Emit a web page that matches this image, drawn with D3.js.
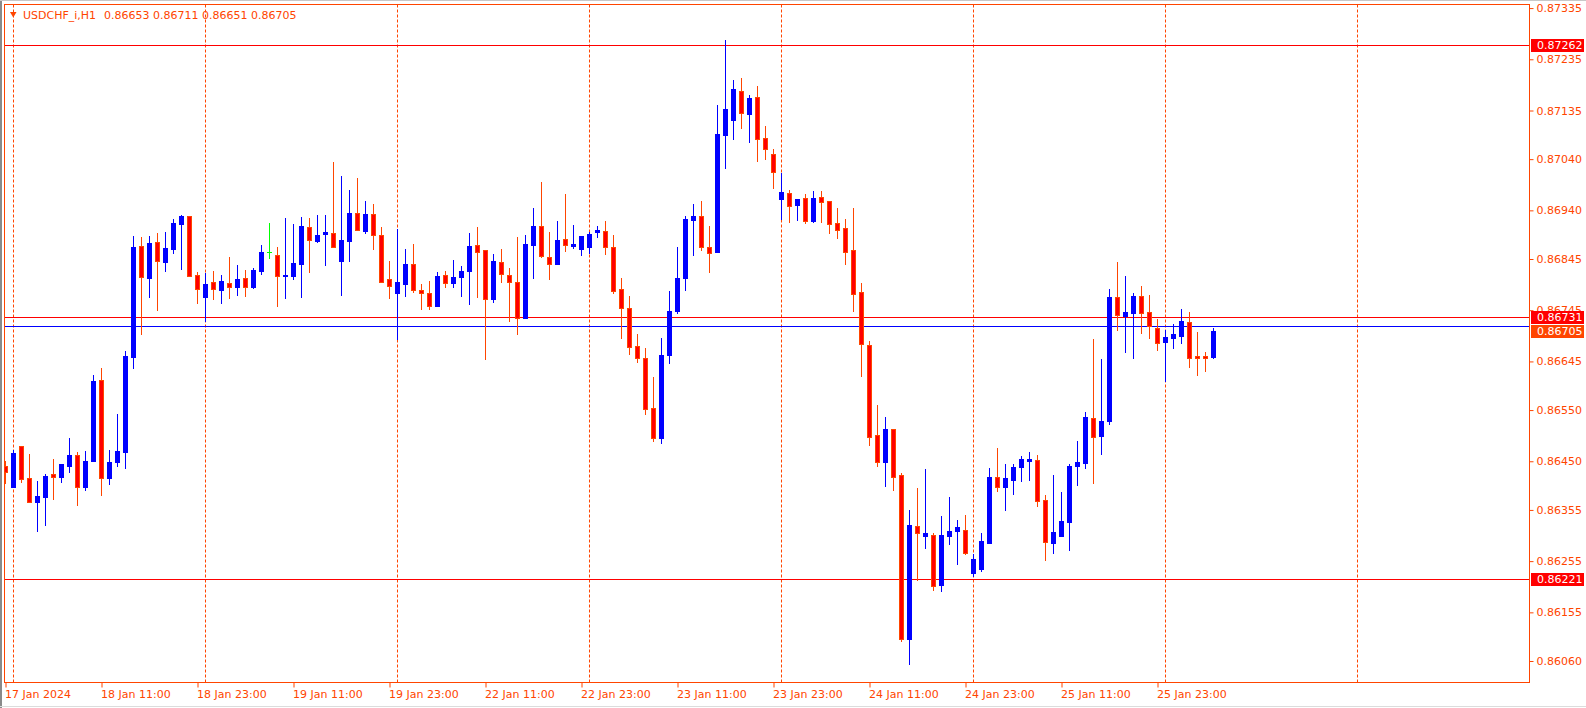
<!DOCTYPE html>
<html><head><meta charset="utf-8">
<script src="https://cdn.jsdelivr.net/npm/d3@7"></script>
<style>
html,body{margin:0;padding:0;background:#fff;overflow:hidden;}
svg{display:block;font-family:"DejaVu Sans",sans-serif;}
</style></head><body>
<svg id="chart" width="1586" height="708"></svg>
<script>
const symbol = "USDCHF_i,H1";
const opens = [0.86441,0.86399,0.86480,0.86417,0.86371,0.86381,0.86425,0.86420,0.86441,0.86462,0.86400,0.86451,0.86609,0.86418,0.86449,0.86469,0.86654,0.86871,0.86807,0.86878,0.86840,0.86865,0.86914,0.86929,0.86813,0.86770,0.86800,0.86785,0.86798,0.86791,0.86808,0.86791,0.86822,0.86858,0.86853,0.86811,0.86812,0.86836,0.86908,0.86880,0.86893,0.86896,0.86842,0.86881,0.86935,0.86900,0.86933,0.86892,0.86806,0.86779,0.86797,0.86835,0.86785,0.86778,0.86754,0.86814,0.86799,0.86809,0.86822,0.86872,0.86863,0.86767,0.86839,0.86814,0.86800,0.86729,0.86873,0.86910,0.86849,0.86836,0.86884,0.86871,0.86865,0.86869,0.86897,0.86900,0.86869,0.86787,0.86749,0.86675,0.86652,0.86554,0.86496,0.86658,0.86744,0.86807,0.86922,0.86929,0.86869,0.86859,0.87088,0.87117,0.87173,0.87129,0.87162,0.87081,0.87050,0.86962,0.86974,0.86951,0.86964,0.86919,0.86966,0.86958,0.86916,0.86906,0.86863,0.86781,0.86677,0.86501,0.86449,0.86513,0.86423,0.86103,0.86324,0.86305,0.86306,0.86209,0.86305,0.86313,0.86316,0.86232,0.86239,0.86291,0.86419,0.86399,0.86414,0.86438,0.86451,0.86453,0.86375,0.86291,0.86305,0.86332,0.86440,0.86447,0.86535,0.86500,0.86529,0.86771,0.86734,0.86740,0.86773,0.86742,0.86710,0.86682,0.86690,0.86695,0.86722,0.86656,0.86656,0.86653];
const highs = [0.86451,0.86472,0.86480,0.86464,0.86412,0.86425,0.86455,0.86445,0.86496,0.86468,0.86470,0.86619,0.86632,0.86472,0.86542,0.86665,0.86890,0.86888,0.86890,0.86896,0.86898,0.86923,0.86931,0.86929,0.86820,0.86818,0.86822,0.86814,0.86849,0.86833,0.86824,0.86828,0.86872,0.86915,0.86869,0.86925,0.86913,0.86927,0.86925,0.86931,0.86931,0.87035,0.87007,0.86980,0.87003,0.86958,0.86953,0.86908,0.86842,0.86904,0.86865,0.86875,0.86796,0.86802,0.86820,0.86822,0.86843,0.86831,0.86896,0.86908,0.86863,0.86855,0.86865,0.86828,0.86888,0.86892,0.86945,0.86996,0.86898,0.86919,0.86972,0.86912,0.86890,0.86898,0.86910,0.86919,0.86892,0.86807,0.86773,0.86699,0.86672,0.86615,0.86690,0.86783,0.86869,0.86929,0.86953,0.86958,0.86910,0.87146,0.87273,0.87195,0.87199,0.87165,0.87183,0.87105,0.87060,0.87012,0.86980,0.86962,0.86972,0.86978,0.86978,0.86958,0.86945,0.86923,0.86945,0.86798,0.86685,0.86560,0.86537,0.86513,0.86427,0.86355,0.86398,0.86435,0.86310,0.86343,0.86380,0.86335,0.86345,0.86269,0.86310,0.86437,0.86476,0.86445,0.86445,0.86460,0.86468,0.86462,0.86384,0.86423,0.86390,0.86445,0.86490,0.86546,0.86689,0.86650,0.86787,0.86839,0.86812,0.86779,0.86792,0.86775,0.86728,0.86706,0.86718,0.86747,0.86742,0.86703,0.86664,0.86711];
const lows = [0.86407,0.86399,0.86410,0.86370,0.86313,0.86326,0.86376,0.86410,0.86430,0.86365,0.86393,0.86451,0.86385,0.86406,0.86441,0.86437,0.86633,0.86699,0.86770,0.86746,0.86822,0.86857,0.86826,0.86811,0.86760,0.86723,0.86766,0.86760,0.86768,0.86775,0.86772,0.86789,0.86816,0.86846,0.86754,0.86768,0.86805,0.86770,0.86820,0.86878,0.86834,0.86869,0.86775,0.86842,0.86902,0.86895,0.86865,0.86801,0.86768,0.86689,0.86772,0.86781,0.86748,0.86748,0.86754,0.86791,0.86791,0.86772,0.86758,0.86770,0.86650,0.86762,0.86801,0.86723,0.86699,0.86729,0.86807,0.86848,0.86805,0.86836,0.86861,0.86867,0.86852,0.86857,0.86887,0.86854,0.86779,0.86691,0.86660,0.86643,0.86543,0.86490,0.86486,0.86641,0.86740,0.86785,0.86852,0.86863,0.86820,0.86859,0.87023,0.87080,0.87100,0.87074,0.87037,0.87041,0.86984,0.86923,0.86917,0.86921,0.86916,0.86917,0.86917,0.86895,0.86886,0.86836,0.86744,0.86617,0.86482,0.86441,0.86402,0.86393,0.86099,0.86054,0.86219,0.86281,0.86199,0.86197,0.86289,0.86250,0.86268,0.86225,0.86236,0.86291,0.86391,0.86354,0.86387,0.86412,0.86414,0.86363,0.86257,0.86270,0.86305,0.86277,0.86404,0.86436,0.86408,0.86465,0.86522,0.86707,0.86664,0.86652,0.86701,0.86690,0.86668,0.86607,0.86672,0.86680,0.86635,0.86619,0.86627,0.86651];
const closes = [0.86430,0.86467,0.86415,0.86370,0.86382,0.86421,0.86419,0.86445,0.86462,0.86399,0.86451,0.86607,0.86417,0.86449,0.86470,0.86656,0.86869,0.86809,0.86876,0.86842,0.86867,0.86915,0.86929,0.86811,0.86787,0.86796,0.86787,0.86802,0.86790,0.86806,0.86791,0.86824,0.86859,0.86858,0.86811,0.86814,0.86837,0.86910,0.86883,0.86892,0.86898,0.86869,0.86882,0.86935,0.86902,0.86933,0.86891,0.86801,0.86793,0.86800,0.86835,0.86785,0.86778,0.86754,0.86812,0.86799,0.86810,0.86822,0.86871,0.86858,0.86766,0.86841,0.86815,0.86800,0.86729,0.86874,0.86910,0.86850,0.86836,0.86882,0.86873,0.86874,0.86890,0.86894,0.86902,0.86869,0.86783,0.86750,0.86674,0.86652,0.86553,0.86496,0.86658,0.86744,0.86807,0.86923,0.86929,0.86869,0.86857,0.87089,0.87138,0.87177,0.87131,0.87160,0.87080,0.87059,0.87014,0.86976,0.86949,0.86962,0.86919,0.86964,0.86957,0.86914,0.86902,0.86859,0.86777,0.86679,0.86498,0.86449,0.86513,0.86420,0.86103,0.86326,0.86309,0.86310,0.86207,0.86306,0.86314,0.86322,0.86270,0.86259,0.86294,0.86419,0.86400,0.86417,0.86439,0.86455,0.86455,0.86373,0.86293,0.86311,0.86333,0.86441,0.86449,0.86537,0.86498,0.86529,0.86771,0.86736,0.86742,0.86773,0.86740,0.86715,0.86680,0.86693,0.86699,0.86724,0.86652,0.86652,0.86652,0.86705];
const timeLabels = ["17 Jan 2024","18 Jan 11:00","18 Jan 23:00","19 Jan 11:00","19 Jan 23:00","22 Jan 11:00","22 Jan 23:00","23 Jan 11:00","23 Jan 23:00","24 Jan 11:00","24 Jan 23:00","25 Jan 11:00","25 Jan 23:00"];
const labelBars = [0,12,24,36,48,60,72,84,96,108,120,132,144];
const dayStartBars = [1,25,49,73,97,121,145,169];
const priceTicks = [0.87335,0.87235,0.87135,0.87040,0.86940,0.86845,0.86745,0.86645,0.86550,0.86450,0.86355,0.86255,0.86155,0.86060];
const levelLines = [0.87262,0.86731,0.86221];
const askPrice = 0.86715;
const bidPrice = 0.86705;
const priceMax = 0.87342, priceMin = 0.86018;
const visibleBars = 190;

const C_AXIS = "#FF4500", C_BULL = "#0000FF", C_BEAR = "#FF0000", C_DOJI = "#00FF00";
const W = 1586, H = 708;
const L = 4.5, R = 1529.5, T = 4.5, B = 682.5;

const svg = d3.select("#chart");
svg.append("rect").attr("width", W).attr("height", H).attr("fill", "#fff");

const x = d3.scaleLinear().domain([0, visibleBars]).range([5.5, 5.5 + 8 * visibleBars]);
const y = d3.scaleLinear().domain([priceMin, priceMax]).range([B, T]);

svg.append("defs").append("clipPath").attr("id", "clip")
  .append("rect").attr("x", L + 0.5).attr("y", T + 0.5).attr("width", R - L - 1).attr("height", B - T - 1);

// window edges
svg.append("rect").attr("x", 0).attr("y", 0).attr("width", 2).attr("height", H).attr("fill", "#8a8a8a");
svg.append("line").attr("x1", 0).attr("x2", W).attr("y1", 0.5).attr("y2", 0.5).attr("stroke", "#c8c8c8");
svg.append("line").attr("x1", 0).attr("x2", W).attr("y1", 706.5).attr("y2", 706.5).attr("stroke", "#dcdcdc");

const plot = svg.append("g").attr("clip-path", "url(#clip)");

// day separators
plot.selectAll("line.grid").data(dayStartBars).join("line")
  .attr("class", "grid")
  .attr("x1", d => x(d)).attr("x2", d => x(d))
  .attr("y1", T).attr("y2", B)
  .attr("stroke", C_AXIS).attr("stroke-width", 1).attr("stroke-dasharray", "3,2");

// horizontal levels
plot.selectAll("line.level").data(levelLines).join("line")
  .attr("class", "level")
  .attr("x1", L).attr("x2", R)
  .attr("y1", d => Math.round(y(d)) + 0.5).attr("y2", d => Math.round(y(d)) + 0.5)
  .attr("stroke", C_BEAR).attr("stroke-width", 1);
plot.append("line")
  .attr("x1", L).attr("x2", R)
  .attr("y1", Math.round(y(askPrice)) + 0.5).attr("y2", Math.round(y(askPrice)) + 0.5)
  .attr("stroke", C_BULL).attr("stroke-width", 1);

// candles
const bars = opens.map((o, i) => ({ i, o, h: highs[i], l: lows[i], c: closes[i] }));
const cg = plot.append("g");
bars.forEach(b => {
  const cx = x(b.i);
  const yt = Math.round(y(Math.max(b.o, b.c)));
  const yb = Math.round(y(Math.min(b.o, b.c)));
  const yh = Math.round(y(b.h));
  const yl = Math.round(y(b.l));
  const doji = b.o === b.c;
  const bull = b.c > b.o;
  const wickColor = doji ? C_DOJI : (bull ? C_BULL : C_AXIS);
  cg.append("line").attr("x1", cx).attr("x2", cx).attr("y1", yh).attr("y2", yl + 1)
    .attr("stroke", wickColor).attr("stroke-width", 1);
  if (doji) {
    cg.append("line").attr("x1", cx - 2.5).attr("x2", cx + 2.5).attr("y1", yt + 0.5).attr("y2", yt + 0.5)
      .attr("stroke", C_DOJI).attr("stroke-width", 1);
  } else if (bull) {
    cg.append("rect").attr("x", cx - 2.5).attr("y", yt).attr("width", 5).attr("height", Math.max(1, yb - yt + 1))
      .attr("fill", C_BULL);
  } else {
    cg.append("rect").attr("x", cx - 2).attr("y", yt + 0.5).attr("width", 4).attr("height", Math.max(0.01, yb - yt))
      .attr("fill", C_BEAR).attr("stroke", C_AXIS).attr("stroke-width", 1);
  }
});

// frame
svg.append("rect").attr("x", L).attr("y", T).attr("width", R - L).attr("height", B - T)
  .attr("fill", "none").attr("stroke", C_AXIS).attr("stroke-width", 1);

// price axis
const yAxis = d3.axisRight(y).tickValues(priceTicks).tickSize(4).tickPadding(3).tickFormat(d3.format(".5f"));
const ya = svg.append("g").attr("transform", `translate(${R},0)`).call(yAxis);
ya.select(".domain").remove();
ya.selectAll(".tick line").attr("stroke", C_AXIS);
ya.selectAll(".tick text").attr("fill", C_AXIS).attr("font-size", "11px").attr("font-family", "DejaVu Sans");

// time axis
const xAxis = d3.axisBottom(x).tickValues(labelBars).tickSize(5).tickPadding(3)
  .tickFormat((d, i) => timeLabels[i]);
const xa = svg.append("g").attr("transform", `translate(0,${B})`).call(xAxis);
xa.select(".domain").remove();
xa.selectAll(".tick line").attr("stroke", C_AXIS);
xa.selectAll(".tick text").attr("fill", C_AXIS).attr("font-size", "11px").attr("font-family", "DejaVu Sans")
  .attr("text-anchor", "start").attr("x", -1);

// price label boxes
const boxes = levelLines.map(p => ({ p, fill: C_BEAR })).concat([{ p: bidPrice, fill: C_AXIS }]);
const bg = svg.append("g");
boxes.forEach(bx => {
  const cy = Math.round(y(bx.p));
  bg.append("rect").attr("x", R + 1.5).attr("y", cy - 6).attr("width", 53).attr("height", 13).attr("fill", bx.fill);
  bg.append("text").attr("x", R + 7.5).attr("y", cy + 0.5).attr("dy", "0.35em")
    .attr("fill", "#fff").attr("font-size", "11px").text(d3.format(".5f")(bx.p));
});

// title
const last = bars[bars.length - 1];
svg.append("path").attr("d", "M10,12 L16.5,12 L13.25,17.5 Z").attr("fill", C_AXIS);
svg.append("text").attr("x", 23).attr("y", 18.5).attr("fill", C_AXIS).attr("font-size", "11px").text(symbol);
svg.append("text").attr("x", 104).attr("y", 18.5).attr("fill", C_AXIS).attr("font-size", "11px")
  .text([last.o, last.h, last.l, last.c].map(d3.format(".5f")).join(" "));
</script>
</body></html>
